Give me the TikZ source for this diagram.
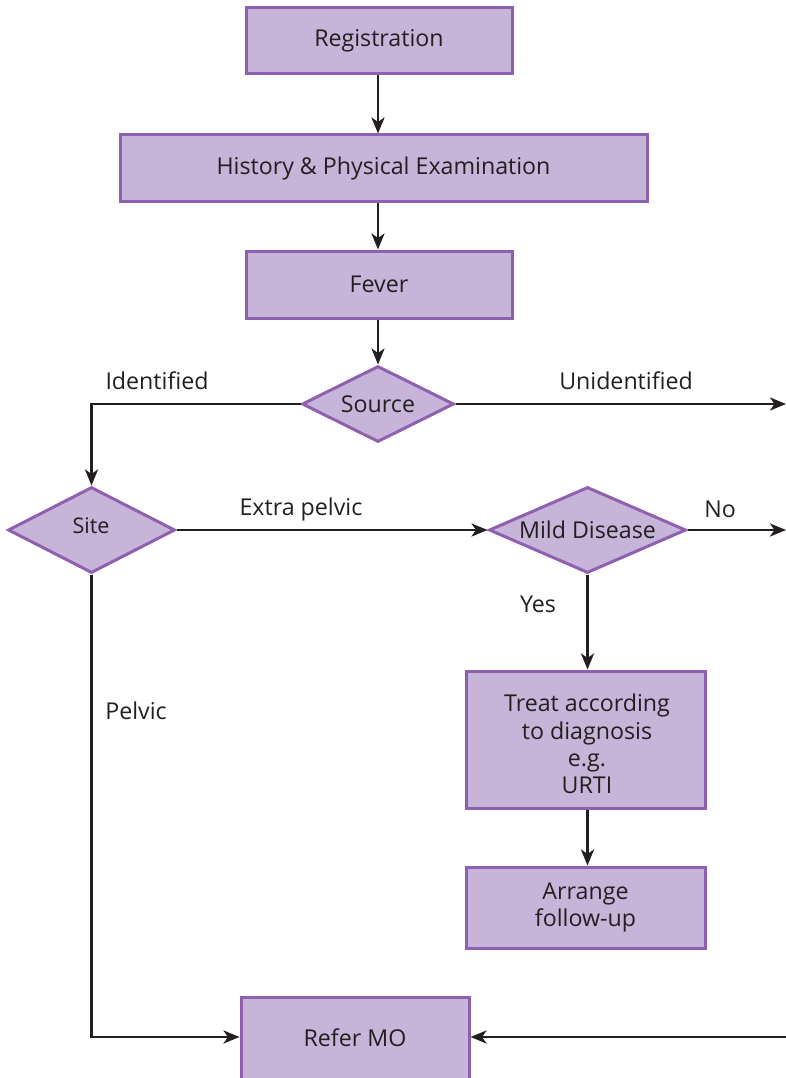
\documentclass[tikz,border=0pt]{standalone}
\usepackage{fontspec}
\setmainfont{Open Sans}
\usetikzlibrary{shapes.geometric,arrows.meta}
\definecolor{boxfill}{HTML}{C6B4D9}
\definecolor{boxdraw}{HTML}{8F5FB0}
\definecolor{linecol}{HTML}{231F20}
\begin{document}
\begin{tikzpicture}[x=1pt,y=-1pt,
  every node/.style={font=\fontsize{23.2}{27.3}\selectfont, text=linecol},
  procbox/.style={rectangle, draw=boxdraw, fill=boxfill, line width=3pt, inner sep=0pt, align=center},
  decbox/.style={diamond, draw=boxdraw, fill=boxfill, line width=3pt, inner sep=0pt},
  conn/.style={draw=linecol, line width=2.8pt, -{Stealth[length=16pt,width=13pt,inset=4.5pt]}},
  lbl/.style={inner sep=0pt, align=center}]
\useasboundingbox (0,0) rectangle (786,1078);
% boxes
\node[procbox, minimum width=266pt, minimum height=66pt] (reg) at (379,41) {Registration};
\node[procbox, minimum width=527pt, minimum height=66pt] (hist) at (383.5,168) {History \& Physical Examination};
\node[procbox, minimum width=266pt, minimum height=67pt] (fever) at (379,284.5) {Fever};
\node[decbox, minimum width=152pt, minimum height=76pt] (src) at (378,404) {};
\node[lbl] (srct) at (src.center) {Source};
\node[decbox, minimum width=167pt, minimum height=86pt] (site) at (91.5,530) {};
\node[lbl, font=\fontsize{21.5}{25}\selectfont] (sitet) at (91,526) {Site};
\node[decbox, minimum width=197pt, minimum height=86pt] (mild) at (587.5,530) {};
\node[lbl] (mildt) at (mild.center) {Mild Disease};
\node[procbox, minimum width=239pt, minimum height=137pt] (treat) at (585.5,739.5) {};
\node[lbl] (treatt) at (587,744) {Treat according\\to diagnosis\\e.g.\\URTI};
\node[procbox, minimum width=239pt, minimum height=81pt] (arr) at (585.5,907.5) {Arrange\\follow-up};
\node[procbox, minimum width=228pt, minimum height=82pt] (refer) at (355,1038) {Refer MO};
% free ends
\coordinate (srcR) at (786,404);
\coordinate (mildR) at (786,530);
\coordinate (refR) at (786,1037);
\coordinate (srcL) at (91.5,404);
\coordinate (siteB) at (91.5,1037);
% connectors
\draw[conn] (reg.south -| src.north) -- (hist.north -| src.north);
\draw[conn] (hist.south -| src.north) -- (fever.north -| src.north);
\draw[conn] (fever.south -| src.north) -- (src.north);
\draw[conn] (src.west) -- (srcL) -- (site.north);
\draw[conn] (src.east) -- (srcR);
\draw[conn] (site.east) -- (mild.west);
\draw[conn] (mild.east) -- (mildR);
\draw[conn] (mild.south) -- (treat.north -| mild.south);
\draw[conn] (treat.south -| mild.south) -- (arr.north -| mild.south);
\draw[conn] (site.south) -- (siteB) -- (refer.west |- siteB);
\draw[conn] (refR) -- (refer.east |- refR);
% labels
\node[lbl] (lid) at (157,381) {Identified};
\node[lbl] (lunid) at (626,381) {Unidentified};
\node[lbl] (lext) at (301,509) {Extra pelvic};
\node[lbl] (lno) at (720,509) {No};
\node[lbl] (lyes) at (538,604) {Yes};
\node[lbl] (lpel) at (136,711) {Pelvic};
\end{tikzpicture}
\end{document}
